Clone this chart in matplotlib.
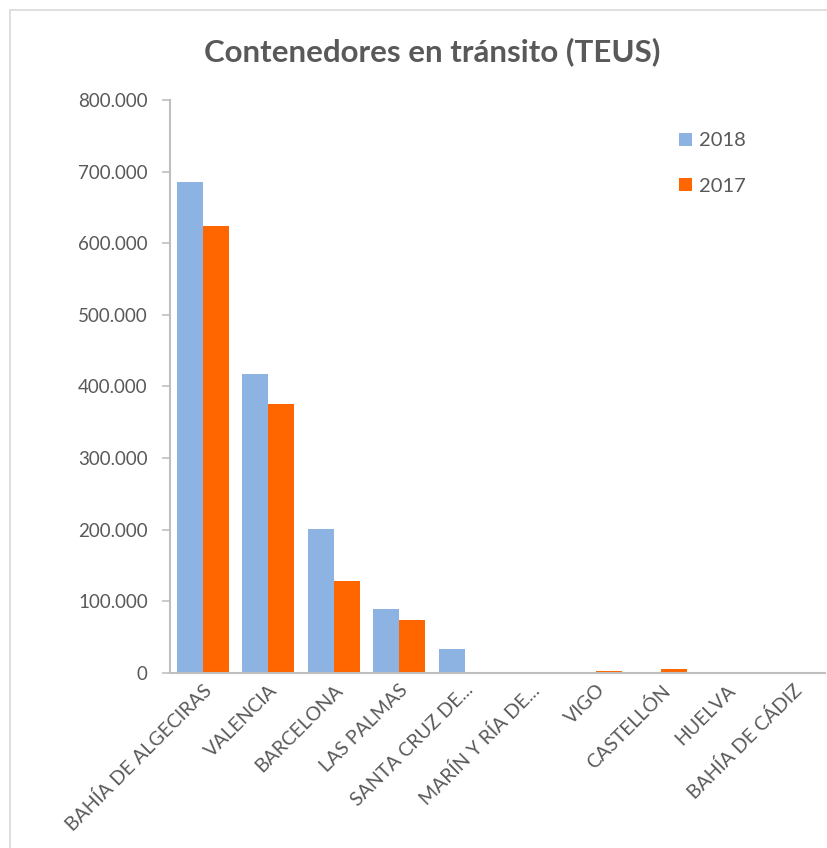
import matplotlib
matplotlib.use("Agg")
import matplotlib.pyplot as plt
from matplotlib.patches import Rectangle
from matplotlib.ticker import FuncFormatter
import numpy as np

plt.rcParams['font.family'] = ['Lato', 'DejaVu Sans']

puertos = ["BAHÍA DE ALGECIRAS", "VALENCIA", "BARCELONA", "LAS PALMAS",
           "SANTA CRUZ DE...", "MARÍN Y RÍA DE...", "VIGO", "CASTELLÓN",
           "HUELVA", "BAHÍA DE CÁDIZ"]
teus_2018 = [686000, 417000, 201000, 89000, 33200, 1000, 300, 200, 200, 100]
teus_2017 = [624000, 376000, 128000, 73400, 400, 500, 3000, 5000, 100, 50]

gris = '#595959'
eje = '#bfbfbf'

fig = plt.figure(figsize=(8.27, 8.48), dpi=100)
fig.patches.append(Rectangle((10/827, -0.1), 1.2, 1.1 - 10/848,
                             transform=fig.transFigure, fill=False,
                             edgecolor='#d9d9d9', linewidth=1.2))

ax = fig.add_axes([170/827, 1 - 673/848, 655/827, 573/848])
x = np.arange(len(puertos))
w = 0.4
ax.bar(x - w/2, teus_2018, w, color='#8DB3E2', label='2018')
ax.bar(x + w/2, teus_2017, w, color='#FF6600', label='2017')

ax.set_xlim(-0.5, len(puertos) - 0.5)
ax.set_ylim(0, 800000)
ax.set_yticks(np.arange(0, 800001, 100000))
ax.yaxis.set_major_formatter(FuncFormatter(lambda v, p: f"{int(v):,}".replace(",", ".")))
ax.set_xticks(x)
ax.set_xticklabels(puertos, rotation=45, ha='right', rotation_mode='anchor')

for s in ['top', 'right']:
    ax.spines[s].set_visible(False)
ax.spines['left'].set_color(eje)
ax.spines['bottom'].set_color(eje)
ax.spines['left'].set_linewidth(1.5)
ax.spines['bottom'].set_linewidth(1.5)
ax.tick_params(axis='y', colors=eje, length=6, width=1.2, labelcolor=gris, labelsize=13.5, pad=10)
ax.tick_params(axis='x', length=0, labelcolor=gris, labelsize=14, pad=6)

leg = ax.legend(loc='upper right', bbox_to_anchor=(0.907, 0.975), frameon=False,
                fontsize=14.5, handlelength=0.65, handleheight=0.65,
                handletextpad=0.35, labelspacing=1.4)
for t in leg.get_texts():
    t.set_color(gris)

fig.text(432/827, 1 - 52/848, "Contenedores en tránsito (TEUS)", ha='center', va='center',
         fontsize=22.5, fontweight='bold', color=gris)

fig.savefig("out.png", dpi=100)
